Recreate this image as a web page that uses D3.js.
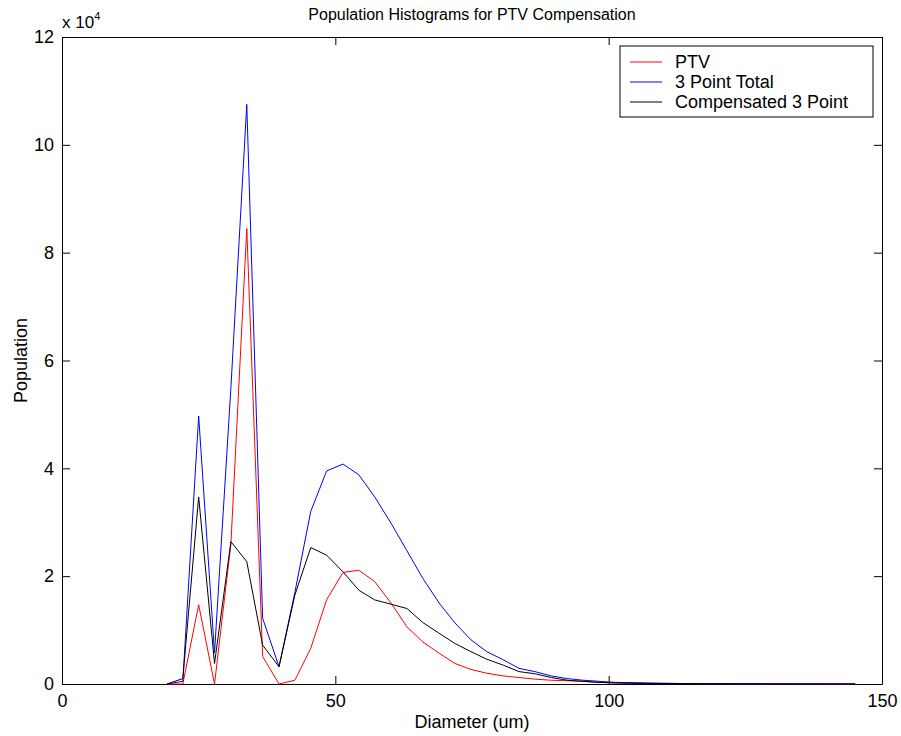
<!DOCTYPE html>
<html>
<head>
<meta charset="utf-8">
<script src="https://d3js.org/d3.v7.min.js"></script>
<style>
  body { margin: 0; background: #fff; }
  svg text { font-family: "Liberation Sans", Arial, sans-serif; fill: #000; }
</style>
</head>
<body>
<div id="chart"></div>
<script>
// bin centres (um)
var diameters = [19.2, 22.1, 25.0, 27.9, 30.9, 33.8, 36.7, 39.7, 42.6, 45.5,
  48.4, 51.4, 54.3, 57.2, 60.2, 63.1, 66.0, 69.0, 71.9, 74.8,
  77.7, 80.7, 83.6, 86.5, 89.5, 92.4, 95.3, 98.2, 101.2, 104.1,
  107.0, 110.0, 112.9, 115.8, 118.7, 121.7, 124.6, 127.5, 130.5, 133.4,
  136.3, 139.2, 142.2, 145.1];

var ptv = [0, 0, 14700, 0, 26000, 84500, 5100, 0, 700, 6600,
  15600, 20700, 21100, 19000, 15000, 10600, 7800, 5700, 3800, 2700,
  2000, 1500, 1200, 900, 700, 600, 500, 300, 200, 150,
  100, 80, 60, 50, 40, 30, 20, 20, 10, 10,
  10, 0, 0, 0];

var total3 = [0, 500, 49700, 5800, 55000, 107500, 12200, 3200, 17000, 32000,
  39500, 40800, 38800, 34700, 29800, 24700, 19600, 15000, 11300, 8200,
  6000, 4500, 2900, 2300, 1500, 1000, 700, 500, 300, 250,
  200, 150, 100, 80, 60, 50, 40, 30, 30, 20,
  20, 20, 20, 10];

var comp3 = [0, 1000, 34700, 3800, 26400, 22700, 7200, 3200, 16500, 25300,
  23900, 20800, 17400, 15600, 14800, 14000, 11400, 9400, 7500, 6000,
  4600, 3500, 2300, 1900, 1200, 700, 500, 300, 200, 150,
  100, 80, 60, 50, 40, 30, 20, 20, 10, 10,
  10, 0, 0, 0];

var seriesNames = ["PTV", "3 Point Total", "Compensated 3 Point"];
var seriesColors = ["#ff0000", "#0000ff", "#000000"];
var xTicks = [0, 50, 100, 150];
var yTicks = [0, 20000, 40000, 60000, 80000, 100000, 120000];

var width = 901, height = 736;
var margin = {top: 37, right: 19, bottom: 52, left: 62};
var w = width - margin.left - margin.right;
var h = height - margin.top - margin.bottom;

var svg = d3.select("#chart").append("svg")
  .attr("width", width)
  .attr("height", height);

var g = svg.append("g")
  .attr("transform", "translate(" + margin.left + "," + margin.top + ")");

var x = d3.scaleLinear().domain([0, 150]).range([0, w]);
var y = d3.scaleLinear().domain([0, 120000]).range([h, 0]);

// axes, ticks pointing inwards, on all four sides
var fmtY = function(d) { return d / 10000; };
var axB = g.append("g").attr("transform", "translate(0," + h + ")")
  .call(d3.axisBottom(x).tickValues(xTicks).tickSizeInner(-8).tickSizeOuter(0).tickPadding(10));
var axL = g.append("g")
  .call(d3.axisLeft(y).tickValues(yTicks).tickFormat(fmtY).tickSizeInner(-8).tickSizeOuter(0).tickPadding(8));
var axT = g.append("g")
  .call(d3.axisTop(x).tickValues(xTicks).tickFormat("").tickSizeInner(-8).tickSizeOuter(0));
var axR = g.append("g").attr("transform", "translate(" + w + ",0)")
  .call(d3.axisRight(y).tickValues(yTicks).tickFormat("").tickSizeInner(-8).tickSizeOuter(0));

[axB, axL, axT, axR].forEach(function(a) {
  a.selectAll("path, line").attr("stroke", "#000").attr("stroke-width", 1);
  a.selectAll("text").style("font-size", "18px").attr("fill", "#000");
});

// lines
var allSeries = [ptv, total3, comp3];
var line = d3.line()
  .x(function(d, i) { return x(diameters[i]); })
  .y(function(d) { return y(d); });

allSeries.forEach(function(s, k) {
  g.append("path")
    .datum(s)
    .attr("fill", "none")
    .attr("stroke", seriesColors[k])
    .attr("stroke-width", 1)
    .attr("d", line);
});

// exponent label
var ex = svg.append("text")
  .attr("x", margin.left)
  .attr("y", 28)
  .style("font-size", "17px");
ex.append("tspan").text("x 10");
ex.append("tspan").attr("dy", -8).style("font-size", "11px").text("4");

// title and axis labels
svg.append("text")
  .attr("x", margin.left + w / 2)
  .attr("y", 20)
  .attr("text-anchor", "middle")
  .style("font-size", "16px")
  .text("Population Histograms for PTV Compensation");

svg.append("text")
  .attr("x", margin.left + w / 2)
  .attr("y", 728)
  .attr("text-anchor", "middle")
  .style("font-size", "18px")
  .text("Diameter (um)");

svg.append("text")
  .attr("transform", "translate(27," + (margin.top + h / 2) + ") rotate(-90)")
  .attr("text-anchor", "middle")
  .style("font-size", "18px")
  .text("Population");

// legend
var lg = svg.append("g").attr("transform", "translate(620,46)");
lg.append("rect")
  .attr("width", 253).attr("height", 71)
  .attr("fill", "#fff").attr("stroke", "#000");
seriesNames.forEach(function(name, k) {
  var yy = 16 + k * 20;
  lg.append("line")
    .attr("x1", 10).attr("x2", 42)
    .attr("y1", yy).attr("y2", yy)
    .attr("stroke", seriesColors[k]);
  lg.append("text")
    .attr("x", 55).attr("y", yy + 6)
    .style("font-size", "18px")
    .text(name);
});
</script>
</body>
</html>
